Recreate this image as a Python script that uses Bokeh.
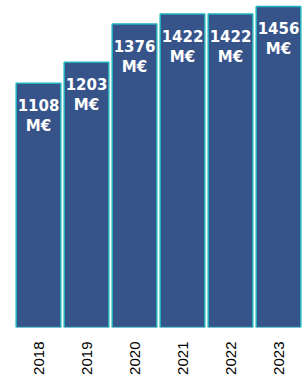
import math
from bokeh.plotting import figure
from bokeh.models import ColumnDataSource, FactorRange, Range1d
from bokeh.core.properties import value
from bokeh.embed import file_html
from bokeh.resources import INLINE

years = ["2018", "2019", "2020", "2021", "2022", "2023"]
values = [1108, 1203, 1376, 1422, 1422, 1456]
unit = "M€"

src = ColumnDataSource(dict(
    year=years,
    value=values,
    num=[str(v) for v in values],
    unit=[unit] * len(values),
))

p = figure(
    x_range=FactorRange(*years, range_padding=0, factor_padding=0),
    y_range=Range1d(0, 1465),
    width=303, height=380,
    output_backend="svg", toolbar_location=None,
    min_border_left=14, min_border_right=1, min_border_top=4, min_border_bottom=53,
)

p.vbar(x="year", top="value", width=0.93, source=src,
       fill_color="#36548a", line_color="#1fb3bd", line_width=1.5)

common = dict(x="year", y="value", source=src, text_color="white",
              text_font=value("DejaVu Sans"), text_font_style="bold",
              text_font_size="15px", text_align="center", text_baseline="middle")
p.text(text="num", y_offset=22, **common)
p.text(text="unit", y_offset=43, **common)

p.yaxis.visible = False
p.xgrid.visible = False
p.ygrid.visible = False
p.outline_line_color = None
p.xaxis.axis_line_color = None
p.xaxis.major_tick_line_color = None
p.xaxis.minor_tick_line_color = None
p.xaxis.major_label_orientation = math.pi / 2
p.xaxis.major_label_standoff = 8
p.xaxis.major_label_text_font = "Liberation Sans"
p.xaxis.major_label_text_font_size = "15px"
p.xaxis.major_label_text_color = "#000000"

open("out.html", "w").write(file_html(p, INLINE))
